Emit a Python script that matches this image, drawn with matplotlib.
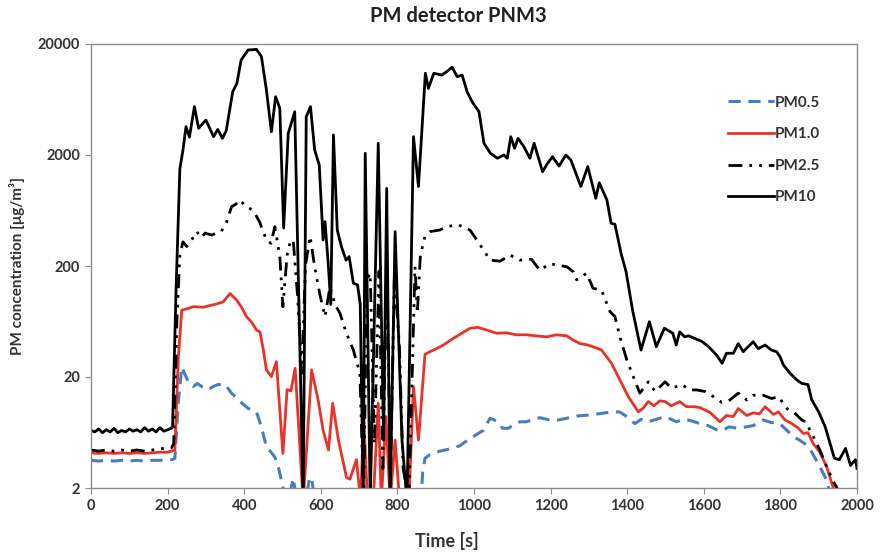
import matplotlib
matplotlib.use("Agg")
import matplotlib.pyplot as plt
from matplotlib.ticker import FixedLocator, NullLocator

plt.rcParams['font.family'] = ['Lato', 'DejaVu Sans']

# PM10 (black solid)
t_pm10 = [0, 10, 20, 30, 40, 50, 60, 70, 80, 90, 100, 110, 120, 130, 140, 150, 160, 170, 180, 190, 200, 210,
          213, 222, 232, 240, 248, 257, 270, 281, 300, 320, 331, 343, 353, 370, 381, 392, 410, 432, 445, 458,
          471, 482, 493, 503, 515, 532, 554, 562, 573, 584, 596, 606, 611, 620, 626, 633, 643, 654, 666, 674,
          685, 696, 703, 711, 716, 729, 750, 764, 772, 781, 794, 812, 825, 842, 855, 873, 881, 895, 916, 929,
          943, 956, 969, 982, 995, 1013, 1026, 1043, 1061, 1078, 1087, 1096, 1106, 1115, 1130, 1146, 1157, 1179,
          1192, 1205, 1222, 1240, 1253, 1279, 1297, 1318, 1327, 1347, 1358, 1368, 1384, 1397, 1414, 1436, 1458,
          1476, 1497, 1519, 1528, 1537, 1550, 1560, 1576, 1594, 1611, 1633, 1648, 1659, 1677, 1690, 1703, 1729,
          1742, 1760, 1777, 1790, 1799, 1808, 1825, 1843, 1856, 1872, 1882, 1900, 1917, 1930, 1941, 1954, 1970,
          1983, 1996, 2000]
v_pm10 = [6.6, 6.4, 6.8, 6.3, 6.7, 6.4, 6.9, 6.3, 6.6, 6.4, 6.8, 6.5, 6.7, 6.4, 7.0, 6.5, 6.8, 6.4, 7.0, 6.5, 6.7, 6.9,
          7.2, 120, 1500, 2200, 3600, 2900, 5450, 3480, 4130, 2925, 3400, 2825, 3300, 7430, 8850, 14350, 17650, 17900, 15400, 7700,
          3240, 6700, 5260, 440, 3130, 4910, 1.5, 4430, 5450, 2218, 1625, 343, 502, 197, 90, 3030, 422, 298, 226, 243,
          140, 135, 90, 1.5, 2070, 1.5, 2550, 5.4, 1000, 1.5, 408, 5.4, 1.5, 2925, 1040, 10900, 7960, 10900, 10500, 11300,
          12350, 10150, 10500, 7430, 6040, 4910, 2550, 2070, 1870, 2000, 1870, 2925, 2300, 2825, 2380, 1870, 2550, 1415,
          1680, 1930, 1590, 2000, 1800, 1040, 1570, 815, 1125, 787, 485, 475, 260, 178, 80, 35, 63,
          37.5, 55, 49.6, 38.8, 51, 46, 47, 44.6, 42, 38, 31.6, 26.6, 32.7, 32.7, 40, 33.8, 41.6,
          36, 38.8, 34.9, 33.8, 30.5, 25.6, 21.6, 18.8, 17.5, 17.1, 12.4, 9.7, 7.1, 5.0, 3.7, 3.6, 4.55,
          3.2, 3.6, 3.0]

# PM2.5 (black dash-dot-dot)
t_pm25 = [0, 20, 40, 60, 80, 100, 120, 140, 160, 180, 200, 210, 216, 224, 232, 240, 250, 262, 276, 288, 298, 315,
          328, 340, 353, 367, 378, 389, 402, 415, 428, 440, 458, 470, 480, 493, 501, 512, 520, 528, 540, 550, 560,
          572, 584, 597, 611, 624, 637, 650, 667, 685, 702, 712, 720, 729, 740, 752, 762, 772, 782, 792, 805, 815,
          830, 846, 852, 860, 872, 885, 911, 929, 959, 990, 1016, 1042, 1068, 1094, 1120, 1150, 1172, 1198, 1216,
          1242, 1259, 1268, 1294, 1311, 1333, 1355, 1368, 1381, 1399, 1416, 1433, 1455, 1473, 1499, 1516, 1542,
          1564, 1581, 1603, 1625, 1647, 1668, 1690, 1712, 1729, 1755, 1777, 1795, 1817, 1838, 1856, 1866, 1886,
          1903, 1921, 1938, 1955, 1970]
v_pm25 = [4.4, 4.3, 4.4, 4.3, 4.4, 4.3, 4.4, 4.3, 4.4, 4.5, 4.6, 4.6, 5, 60, 250, 330, 300, 340, 408, 360, 396, 380,
          396, 410, 485, 685, 720, 787, 700, 660, 597, 500, 343, 320, 453, 243, 86, 250, 330, 343, 100, 21.6, 200,
          370, 197, 113, 70, 130, 90, 75, 49.6, 35, 21.6, 1.5, 150, 172, 5, 180, 3, 200, 2.5, 160, 40, 3,
          1.5, 197, 75, 250, 370, 408, 422, 453, 470, 420, 310, 226, 221, 251, 226, 230, 183, 210, 204,
          197, 178, 150, 172, 126, 121, 77.6, 70, 46, 28.5, 20.1, 14.3, 18.1, 14.8, 18.1, 15.8, 17.1,
          15.3, 15.3, 14.8, 13.3, 11.8, 12.4, 14.3, 12.4, 13.7, 13.7, 12.8, 13.3, 10.4, 9.4, 8.2, 7.9, 5.8,
          4.4, 3.1, 2.3, 1.8, 1.5]

# PM1.0 (red solid)
t_pm1 = [0, 20, 40, 60, 80, 100, 120, 140, 160, 180, 200, 210, 219, 228, 237, 254, 267, 293, 310, 328, 345, 363,
         380, 393, 406, 420, 432, 441, 450, 458, 471, 484, 501, 512, 522, 533, 554, 576, 593, 606, 620, 631, 646,
         667, 676, 693, 704, 712, 722, 738, 750, 758, 770, 781, 794, 806, 830, 842, 855, 872, 885, 902, 920, 946,
         968, 990, 1010, 1033, 1059, 1085, 1110, 1137, 1160, 1190, 1215, 1242, 1259, 1277, 1295, 1311, 1333, 1359,
         1381, 1403, 1429, 1442, 1455, 1470, 1485, 1499, 1515, 1537, 1555, 1575, 1590, 1616, 1642, 1659, 1677,
         1690, 1712, 1729, 1745, 1760, 1782, 1795, 1812, 1830, 1847, 1860, 1872, 1886, 1903, 1921, 1938, 1950]
v_pm1 = [4.15, 4.1, 4.15, 4.1, 4.15, 4.1, 4.15, 4.1, 4.15, 4.2, 4.2, 4.3, 4.4, 30, 80, 83, 86, 85, 88, 91, 95, 113,
         99, 85, 70, 62, 53, 51, 35, 23.2, 20.1, 27.5, 4.1, 15.4, 15, 24, 1.5, 23.2, 12.4, 6.6, 4.4, 11.6, 5.4,
         2.5, 2.4, 3.6, 1.5, 9, 1.5, 1.8, 11.6, 1.5, 8.8, 1.5, 5.4, 1.5, 1.5, 16.4, 5.4, 32, 33.8, 36, 38.8, 44.6,
         49.6, 55, 56, 53, 49.6, 50, 48, 48, 47, 46, 48, 47, 43, 40, 39, 37.5, 35, 26.6,
         18.8, 13.3, 9.7, 10.5, 12, 11, 12.2, 12, 11, 12, 10.8, 10.8, 10.6, 9.6, 7.9, 9.0, 8.8,
         10.4, 9.0, 9.5, 9.3, 10.8, 9.2, 9.7, 8.2, 7.6, 6.9, 6.2, 6.3, 5.0, 4.2, 3.1, 2.0, 1.5]

# PM0.5 (blue dashed)
t_pm05 = [0, 20, 40, 60, 80, 100, 120, 140, 160, 180, 200, 212, 219, 228, 237, 254, 267, 278, 289, 306, 320, 332,
          350, 367, 389, 411, 432, 445, 458, 470, 480, 490, 497, 507, 520, 528, 538, 548, 560, 570, 576, 584, 600,
          700, 800, 860, 866, 872, 885, 911, 937, 963, 990, 1011, 1024, 1042, 1060, 1075, 1090, 1105, 1120, 1137,
          1150, 1172, 1198, 1220, 1242, 1268, 1303, 1333, 1359, 1380, 1399, 1420, 1436, 1455, 1475, 1499, 1515,
          1529, 1545, 1565, 1590, 1611, 1637, 1650, 1665, 1690, 1710, 1729, 1755, 1775, 1799, 1817, 1834, 1850,
          1864, 1882, 1899, 1917, 1930, 1940]
v_pm05 = [3.55, 3.5, 3.55, 3.5, 3.55, 3.5, 3.55, 3.5, 3.55, 3.55, 3.6, 3.6, 3.7, 12, 24.6, 18.1, 16.4, 17.5, 16.4, 15.4, 16.5, 17.1,
          17.1, 14.3, 12, 10.4, 9.7, 7.1, 4.7, 4.2, 3.8, 3, 2.36, 1.6, 1.8, 2.45, 1.5, 1.6, 1.5, 2.4, 2.5, 1.5, 1.3,
          1.2, 1.2, 1.2, 2.8, 3.7, 4.0, 4.3, 4.5, 4.8, 5.6, 6.2, 6.6, 8.5, 8.0, 6.9, 6.9, 7.5, 7.9, 7.9,
          8.2, 8.6, 8.2, 8.2, 8.5, 8.9, 9.1, 9.4, 9.7, 9.7, 8.8, 7.6, 8.3, 7.9, 8.3, 8.8, 8.3,
          7.9, 8.3, 8.1, 7.6, 7.3, 6.6, 6.6, 7.1, 6.9, 7.1, 7.3, 8.2, 7.8, 7.6, 6.6, 5.8, 5.4,
          5.0, 4.2, 3.3, 2.5, 1.8, 1.4]

y_ticks = [2, 20, 200, 2000, 20000]
x_ticks = list(range(0, 2001, 200))

fig = plt.figure(figsize=(8.8, 5.55), dpi=100)
ax = fig.add_axes([91 / 880, 1 - 488 / 555, 766 / 880, 444 / 555])

ax.plot(t_pm05, v_pm05, color='#4a7ebb', lw=2.2, dashes=(4, 2.5), label='PM0.5')
ax.plot(t_pm1, v_pm1, color='#e8332a', lw=2.0, label='PM1.0')
ax.plot(t_pm25, v_pm25, color='black', lw=2.0, dashes=(5, 2.5, 1, 2.5, 1, 2.5), label='PM2.5')
ax.plot(t_pm10, v_pm10, color='black', lw=2.0, label='PM10')

ax.set_yscale('log')
ax.set_ylim(2, 20000)
ax.set_xlim(0, 2000)
ax.yaxis.set_major_locator(FixedLocator(y_ticks))
ax.yaxis.set_minor_locator(NullLocator())
ax.set_yticklabels([str(v) for v in y_ticks])
ax.set_xticks(x_ticks)
ax.set_xticklabels([str(v) for v in x_ticks])

for s in ax.spines.values():
    s.set_color('#8c8c8c')
    s.set_linewidth(1.0)
ax.tick_params(direction='out', length=4, color='#8c8c8c', labelsize=10.5,
               labelcolor='#333333', pad=4)
for lab in ax.get_xticklabels() + ax.get_yticklabels():
    lab.set_fontweight('bold')

fig.text(458 / 880, 1 - 16 / 555, 'PM detector PNM3', ha='center', va='center',
         fontsize=14.5, fontweight='bold', color='#222222')
fig.text(447 / 880, 1 - 541 / 555, 'Time [s]', ha='center', va='center',
         fontsize=13, fontweight='bold', color='#333333')
fig.text(17 / 880, 1 - 266 / 555, 'PM concentration [μg/m³]', ha='center', va='center',
         rotation=90, fontsize=11, fontweight='bold', color='#333333')

leg = ax.legend(loc='upper left', bbox_to_anchor=(714 / 880, 1 - 82 / 555),
                bbox_transform=fig.transFigure, frameon=False, handlelength=3.0,
                handletextpad=0.1, labelspacing=1.15, prop={'weight': 'bold', 'size': 11})
for txt in leg.get_texts():
    txt.set_color('#333333')

fig.savefig('out.png', dpi=100)
